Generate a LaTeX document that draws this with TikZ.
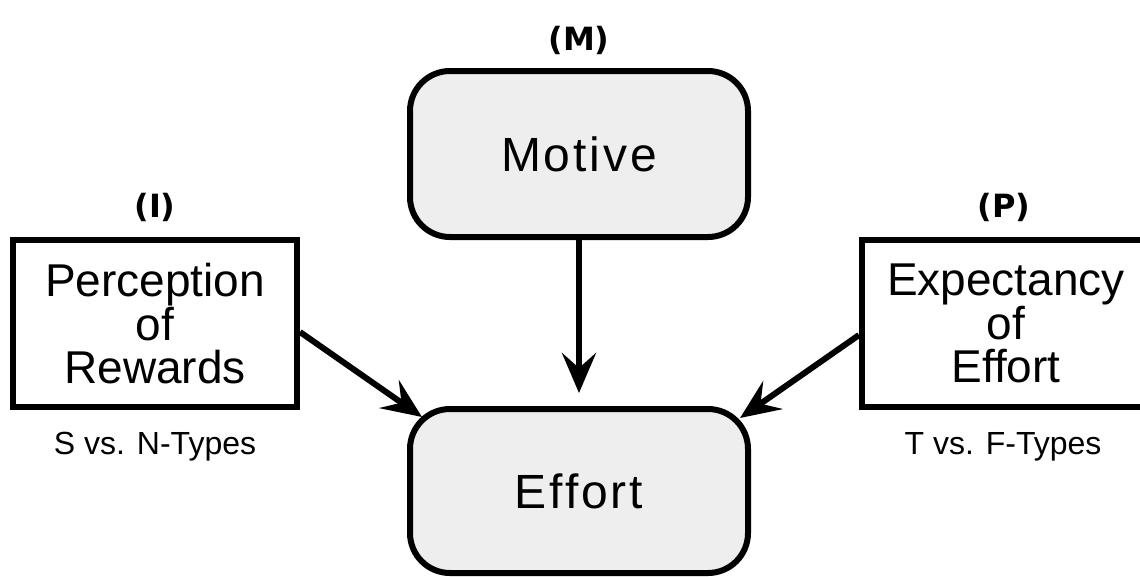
\documentclass[tikz,border=0pt]{standalone}
\usepackage{fontspec}
\setmainfont{Liberation Sans}
\newfontfamily\widefont[LetterSpace=6]{Liberation Sans}
\newfontfamily\tagfont{DejaVu Sans}
\usetikzlibrary{arrows.meta}

\definecolor{boxgray}{HTML}{EEEEEE}

\tikzset{
  outline/.style={draw=black, line width=6pt, inner sep=0pt},
  roundbox/.style={outline, fill=boxgray, rounded corners=40pt,
    minimum width=338pt, font=\widefont\fontsize{48}{48}\selectfont},
  squarebox/.style={outline, fill=white, align=center, minimum height=167pt,
    font=\fontsize{46}{42.5}\selectfont},
  tag/.style={font=\tagfont\bfseries\fontsize{32}{32}\selectfont},
  note/.style={font=\fontsize{32}{32}\selectfont},
  link/.style={line width=6pt, -{Stealth[length=40pt, width=34pt, inset=15pt]}}
}

\begin{document}
\begin{tikzpicture}[x=1pt, y=-1pt]
  \clip (0,0) rectangle (1140,576);
  \fill[white] (0,0) rectangle (1140,576);

  % central column
  \node[roundbox, minimum height=166pt] (motive) at (579,154) {Motive};
  \node[roundbox, minimum height=164pt] (effort) at (579,491) {Effort};

  % side factors
  \node[squarebox, minimum width=284pt] (percep) at (155,323.5)
    {Perception\\of\\Rewards};
  \node[squarebox, minimum width=288pt] (expect) at (1006,323.5)
    {Expectancy\\of\\Effort};

  % letter tags above the boxes
  \node[tag] (tagM) at (579,40) {(M)};
  \node[tag] (tagI) at (155,207) {(I)};
  \node[tag] (tagP) at (1004,207) {(P)};

  % type notes below the side boxes
  \node[note] (noteI) at (155,447) {S vs. N-Types};
  \node[note] (noteP) at (1003,447) {T vs. F-Types};

  % arrow ends at the shoulders of the effort box
  \coordinate (tipL) at ([shift={(15pt,-11pt)}]effort.north west);
  \coordinate (tipR) at ([shift={(-11pt,-12pt)}]effort.north east);

  % connectors
  \draw[link, shorten >=13pt] (motive) -- (effort);
  \draw[link] ([yshift=-8.5pt]percep.east) -- (tipL);
  \draw[link] ([yshift=-11.5pt]expect.west) -- (tipR);
\end{tikzpicture}
\end{document}
